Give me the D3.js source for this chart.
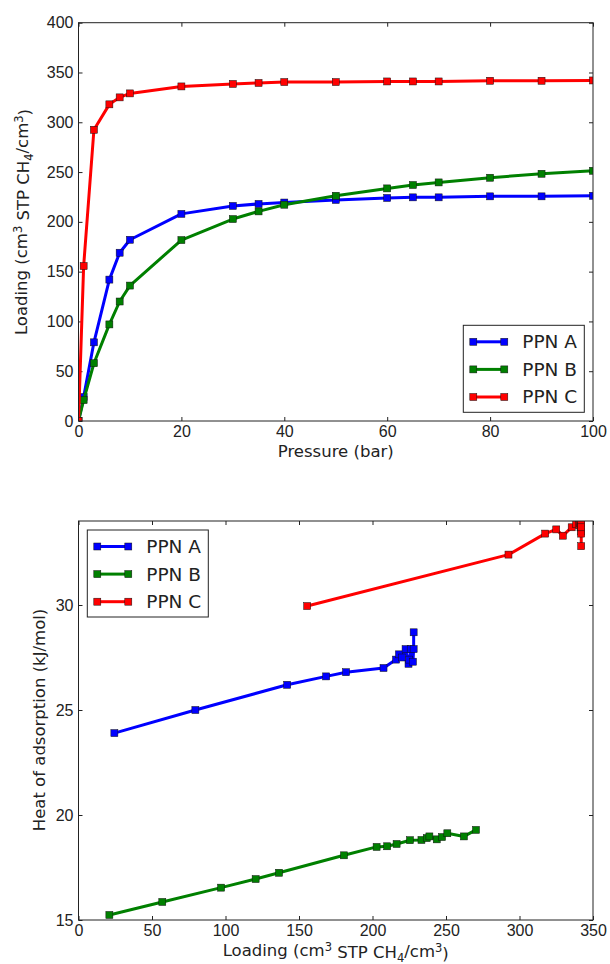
<!DOCTYPE html>
<html>
<head>
<meta charset="utf-8">
<script src="https://cdn.jsdelivr.net/npm/d3@7"></script>
<style>
  body { margin: 0; background: #fff; }
  svg { display: block; font-family: "DejaVu Sans", sans-serif; }
  .tick text { font-size: 16px; fill: #222; }
</style>
</head>
<body>
<script>
// isotherms (top panel)
const pressure = [0, 1, 3, 6, 8, 10, 20, 30, 35, 40, 50, 60, 65, 70, 80, 90, 100];
const loadA = [0, 24, 79, 142, 169, 182, 208, 216, 218, 219.4, 222, 224, 224.6, 224.6, 225.6, 225.6, 226.2];
const loadB = [0, 21, 58, 97, 120, 136, 181.7, 202.8, 210.5, 217.2, 226.2, 233.6, 237, 239.6, 244.3, 248.3, 251.3];
const loadC = [0, 155.6, 292.5, 318, 325, 329, 336, 338.5, 339.5, 340.4, 340.4, 341, 341, 341, 341.7, 341.7, 342];

// heat of adsorption vs loading (bottom panel)
const heatLoadA = [24.4, 79.5, 142, 168.5, 182, 207.5, 216, 218, 220, 222.5, 224.5, 225, 226, 227.5, 228, 228];
const heatA = [23.9, 25.0, 26.2, 26.6, 26.8, 27.0, 27.4, 27.65, 27.5, 27.9, 27.2, 27.4, 27.9, 27.3, 27.9, 28.7];
const heatLoadB = [21, 57, 97, 120.5, 136.4, 180.6, 202.8, 210, 216.4, 225.5, 233.3, 236.9, 238.7, 243.7, 247.3, 250.9, 262.2, 270.4];
const heatB = [15.24, 15.86, 16.54, 16.95, 17.25, 18.08, 18.48, 18.51, 18.62, 18.8, 18.81, 18.9, 18.98, 18.84, 18.95, 19.13, 18.98, 19.29];
const heatLoadC = [155.6, 292.5, 317.5, 325, 329.5, 335.5, 338.5, 340.5, 341, 341.5, 342, 342, 342, 342, 342, 342];
const heatC = [29.95, 32.4, 33.4, 33.6, 33.3, 33.7, 33.85, 33.8, 33.9, 33.7, 33.85, 33.5, 33.9, 33.4, 33.7, 32.8];

const seriesNames = ['PPN A', 'PPN B', 'PPN C'];
const seriesColors = ['#0000ff', '#008000', '#ff0000'];

const pressureTicks = [0, 20, 40, 60, 80, 100];
const loadingTicks = [0, 50, 100, 150, 200, 250, 300, 350, 400];
const heatLoadTicks = [0, 50, 100, 150, 200, 250, 300, 350];
const heatTicks = [15, 20, 25, 30];

const width = 610;
const height = 964;

const svg = d3.select('body')
    .append('svg')
    .attr('width', width)
    .attr('height', height);

function zip(xs, ys) { return xs.map((x, i) => [x, ys[i]]); }

function drawPanel(opts) {
    const { id, x, y, top, bottom, left, right, xTicks, yTicks, series, legend } = opts;
    const g = svg.append('g');

    g.append('clipPath').attr('id', id)
        .append('rect')
        .attr('x', left).attr('y', top)
        .attr('width', right - left).attr('height', bottom - top);

    // axes with inward ticks on all four sides
    g.append('g')
        .attr('transform', `translate(0,${bottom})`)
        .call(d3.axisBottom(x).tickValues(xTicks).tickSizeInner(-4).tickSizeOuter(0).tickPadding(5))
        .call(a => a.select('.domain').remove());
    g.append('g')
        .attr('transform', `translate(0,${top})`)
        .call(d3.axisTop(x).tickValues(xTicks).tickSizeInner(-4).tickSizeOuter(0).tickFormat(''))
        .call(a => a.select('.domain').remove());
    g.append('g')
        .attr('transform', `translate(${left},0)`)
        .call(d3.axisLeft(y).tickValues(yTicks).tickSizeInner(-4).tickSizeOuter(0).tickPadding(5))
        .call(a => a.select('.domain').remove());
    g.append('g')
        .attr('transform', `translate(${right},0)`)
        .call(d3.axisRight(y).tickValues(yTicks).tickSizeInner(-4).tickSizeOuter(0).tickFormat(''))
        .call(a => a.select('.domain').remove());
    g.selectAll('.tick line').attr('stroke', '#222');

    const plot = g.append('g').attr('clip-path', `url(#${id})`);
    const line = d3.line().x(d => x(d[0])).y(d => y(d[1]));
    series.forEach((pts, i) => {
        plot.append('path')
            .attr('d', line(pts))
            .attr('fill', 'none')
            .attr('stroke', seriesColors[i])
            .attr('stroke-width', 3)
            .attr('stroke-linejoin', 'round');
        plot.selectAll(null)
            .data(pts)
            .enter()
            .append('rect')
                .attr('x', d => x(d[0]) - 3.5)
                .attr('y', d => y(d[1]) - 3.5)
                .attr('width', 7)
                .attr('height', 7)
                .attr('fill', seriesColors[i])
                .attr('stroke', '#111')
                .attr('stroke-width', 0.5);
    });

    g.append('rect')
        .attr('x', left).attr('y', top)
        .attr('width', right - left).attr('height', bottom - top)
        .attr('fill', 'none')
        .attr('stroke', '#222')
        .attr('stroke-width', 1);

    // legend
    const lg = g.append('g').attr('transform', `translate(${legend.x},${legend.y})`);
    lg.append('rect')
        .attr('width', legend.w).attr('height', legend.h)
        .attr('fill', '#fff').attr('stroke', '#222').attr('stroke-width', 1);
    seriesNames.forEach((name, i) => {
        const cy = 16.5 + i * 27.6;
        lg.append('line')
            .attr('x1', 10).attr('x2', 41).attr('y1', cy).attr('y2', cy)
            .attr('stroke', seriesColors[i]).attr('stroke-width', 3);
        [10, 41].forEach(cx => {
            lg.append('rect')
                .attr('x', cx - 3.5).attr('y', cy - 3.5)
                .attr('width', 7).attr('height', 7)
                .attr('fill', seriesColors[i]).attr('stroke', '#111').attr('stroke-width', 0.5);
        });
        lg.append('text')
            .attr('x', 59).attr('y', cy + 6.5)
            .attr('font-size', 18.5)
            .attr('fill', '#222')
            .text(name);
    });
    return g;
}

function unitLabel(sel, prefix) {
    sel.append('tspan').text(prefix + '(cm');
    sel.append('tspan').attr('font-size', '0.7em').attr('dy', '-0.45em').text('3');
    sel.append('tspan').attr('dy', '0.45em').text(' STP CH');
    sel.append('tspan').attr('font-size', '0.7em').attr('dy', '0.3em').text('4');
    sel.append('tspan').attr('dy', '-0.3em').text('/cm');
    sel.append('tspan').attr('font-size', '0.7em').attr('dy', '-0.45em').text('3');
    sel.append('tspan').attr('dy', '0.45em').text(')');
}

const left = 78.5, right = 593;

// top panel
const x1 = d3.scaleLinear().domain([0, 100]).range([left, right]);
const y1 = d3.scaleLinear().domain([0, 400]).range([421, 22.7]);
drawPanel({
    id: 'clipTop', x: x1, y: y1, top: 22.7, bottom: 421, left, right,
    xTicks: pressureTicks, yTicks: loadingTicks,
    series: [zip(pressure, loadA), zip(pressure, loadB), zip(pressure, loadC)],
    legend: { x: 463.3, y: 325.3, w: 121, h: 87 }
});
svg.append('text')
    .attr('x', (left + right) / 2).attr('y', 457)
    .attr('text-anchor', 'middle').attr('font-size', 16.5).attr('fill', '#222')
    .text('Pressure (bar)');
svg.append('text')
    .attr('transform', `translate(27,222) rotate(-90)`)
    .attr('text-anchor', 'middle').attr('font-size', 16.5).attr('fill', '#222')
    .call(unitLabel, 'Loading ');

// bottom panel
const x2 = d3.scaleLinear().domain([0, 350]).range([left, right]);
const y2 = d3.scaleLinear().domain([15, 34]).range([920, 521]);
drawPanel({
    id: 'clipBottom', x: x2, y: y2, top: 521, bottom: 920, left, right,
    xTicks: heatLoadTicks, yTicks: heatTicks,
    series: [zip(heatLoadA, heatA), zip(heatLoadB, heatB), zip(heatLoadC, heatC)],
    legend: { x: 87.3, y: 530, w: 121, h: 87 }
});
svg.append('text')
    .attr('x', (left + right) / 2).attr('y', 956)
    .attr('text-anchor', 'middle').attr('font-size', 16.5).attr('fill', '#222')
    .call(unitLabel, 'Loading ');
svg.append('text')
    .attr('transform', `translate(45,720) rotate(-90)`)
    .attr('text-anchor', 'middle').attr('font-size', 16.5).attr('fill', '#222')
    .text('Heat of adsorption (kJ/mol)');
</script>
</body>
</html>
